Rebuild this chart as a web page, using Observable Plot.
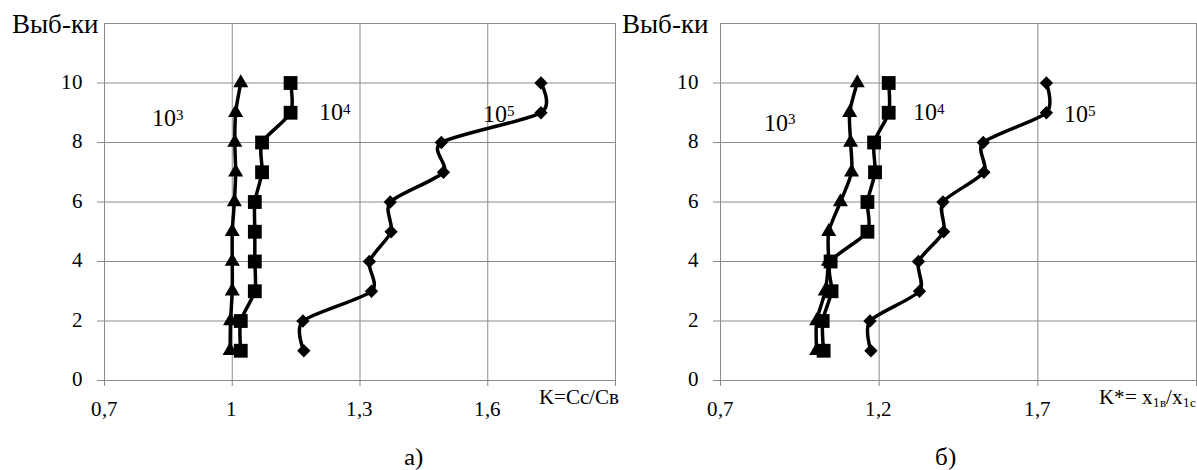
<!DOCTYPE html>
<html><head><meta charset="utf-8">
<script src="https://cdn.jsdelivr.net/npm/d3@7"></script>
<script src="https://cdn.jsdelivr.net/npm/@observablehq/plot@0.6"></script>
<style>
@font-face{font-family:"RefSerif";src:local("Liberation Serif"),local("LiberationSerif"),local("LiberationSerif-Regular"),local("Times New Roman");}
body{margin:0;background:#fff;}
#wrap{position:relative;width:1197px;height:470px;overflow:hidden;background:#fff;color:#000;}
#wrap svg{position:absolute;top:0;}
.lab{position:absolute;white-space:nowrap;line-height:1;}
.sup{position:relative;top:-0.42em;font-size:0.62em;}
.sub{position:relative;top:0.28em;font-size:0.62em;}
</style></head><body><div id="wrap"></div>
<script>
// ---- data ----
const samples = [1, 2, 3, 4, 5, 6, 7, 8, 9, 10];
const seriesBase = "10";
const seriesExp = ["3", "4", "5"];
const yTicks = [0, 2, 4, 6, 8, 10];
const yGrid = [0, 2, 4, 6, 8, 10, 12];
const yTitle = "Выб-ки";

// panel a)  K = Cc/Cв
const leftXGrid = [0.7, 1.0, 1.3, 1.6, 1.9];
const leftXLabels = [0.7, 1.0, 1.3, 1.6];
const left1e3 = [0.995, 0.996, 1.000, 1.000, 1.000, 1.005, 1.008, 1.006, 1.008, 1.020];
const left1e4 = [1.020, 1.020, 1.053, 1.053, 1.053, 1.053, 1.070, 1.070, 1.137, 1.137];
const left1e5 = [1.168, 1.166, 1.327, 1.322, 1.373, 1.371, 1.496, 1.491, 1.725, 1.725];
const leftLabelK = [0.850, 1.243, 1.628];
const leftLabelS = [8.80, 9.00, 8.95];

// panel б)  K* = x1в/x1c
const rightXGrid = [0.7, 1.2, 1.7, 2.2];
const rightXLabels = [0.7, 1.2, 1.7];
const right1e3 = [1.003, 1.003, 1.030, 1.040, 1.041, 1.078, 1.113, 1.110, 1.107, 1.131];
const right1e4 = [1.025, 1.022, 1.050, 1.047, 1.163, 1.163, 1.187, 1.184, 1.230, 1.230];
const right1e5 = [1.174, 1.171, 1.327, 1.324, 1.403, 1.401, 1.530, 1.528, 1.727, 1.727];
const rightLabelK = [0.889, 1.359, 1.835];
const rightLabelS = [8.65, 9.00, 8.95];

// ---- drawing ----
const FONT = '"RefSerif", "Liberation Serif", "Times New Roman", serif';
const GRID = "#8a8a8a";
const fmt = d => String(+d.toFixed(2)).replace(".", ",");
const wrap = document.getElementById("wrap");
wrap.style.fontFamily = FONT;

function label(html, px, py, size, anchor = "middle", mode = "baseline") {
  const el = document.createElement("div");
  el.className = "lab";
  el.style.fontFamily = FONT;
  el.style.fontSize = size + "px";
  el.innerHTML = html;
  const tx = anchor === "middle" ? "-50%" : anchor === "end" ? "-100%" : "0";
  el.style.left = px + "px";
  if (mode === "center") {
    el.style.top = py + "px";
    el.style.transform = `translate(${tx},-50%)`;
  } else {
    el.style.top = (py - 0.8375 * size) + "px";
    el.style.transform = `translate(${tx},0)`;
  }
  wrap.appendChild(el);
}

function panel(o) {
  const rows = (vals) => samples.map((s, i) => ({s, k: vals[i]}));
  const d3r = rows(o.s3), d4r = rows(o.s4), d5r = rows(o.s5);
  const curve = {curve: "cardinal", tension: 0.25};
  const svg = Plot.plot({
    width: o.width, height: 470,
    marginLeft: o.marginLeft, marginRight: o.marginRight, marginTop: 23, marginBottom: 90,
    x: {domain: o.xDomain},
    y: {domain: [0, 12]},
    style: {background: "transparent"},
    marks: [
      Plot.ruleX(o.xGrid, {stroke: GRID, strokeWidth: 1}),
      Plot.ruleY(yGrid, {stroke: GRID, strokeWidth: 1}),
      Plot.axisY({ticks: yTicks, tickSize: 7, stroke: GRID, fill: "none", label: null}),
      Plot.axisX({ticks: o.xGrid, tickSize: 6, stroke: GRID, fill: "none", label: null}),
      ...[d3r, d4r, d5r].map(d => Plot.line(d, {x: "k", y: "s", ...curve, stroke: "black", strokeWidth: 3.5})),
      Plot.dot(d3r, {x: "k", y: "s", symbol: "triangle", r: 5.6, fill: "black"}),
      Plot.dot(d4r, {x: "k", y: "s", symbol: "square", r: 7.8, fill: "black"}),
      Plot.dot(d5r, {x: "k", y: "s", symbol: "diamond2", r: 6, fill: "black"})
    ]
  });
  svg.style.left = o.left + "px";
  wrap.appendChild(svg);
  const x = svg.scale("x"), y = svg.scale("y");
  const L = o.left;
  for (const v of yTicks) label(fmt(v), L + o.marginLeft - 21, y.apply(v) - 1, 21, "end", "center");
  for (const v of o.xLabels) label(fmt(v), L + x.apply(v), 409, 21, "middle", "center");
  seriesExp.forEach((e, i) =>
    label(`${seriesBase}<span class="sup">${e}</span>`, L + x.apply(o.labK[i]), y.apply(o.labS[i]), 24, "middle", "center"));
  label(yTitle, L + o.titleX, 34, 27, "start");
  label(o.xTitle, L + o.width - 1, 404, 20.5, "end");
  label(o.caption, L + o.capX, 465, 25, "middle");
}

panel({
  left: 0, width: 620, marginLeft: 104, marginRight: 5, xDomain: [0.7, 1.9],
  xGrid: leftXGrid, xLabels: leftXLabels, s3: left1e3, s4: left1e4, s5: left1e5,
  labK: leftLabelK, labS: leftLabelS, titleX: 12, capX: 413, caption: "а)",
  xTitle: "K=Cc/Cв"
});
panel({
  left: 620, width: 577, marginLeft: 100, marginRight: 1, xDomain: [0.7, 2.2],
  xGrid: rightXGrid, xLabels: rightXLabels, s3: right1e3, s4: right1e4, s5: right1e5,
  labK: rightLabelK, labS: rightLabelS, titleX: 2, capX: 325, caption: "б)",
  xTitle: 'K*= x<span class="sub">1в</span>/x<span class="sub">1c</span>'
});
</script></body></html>
